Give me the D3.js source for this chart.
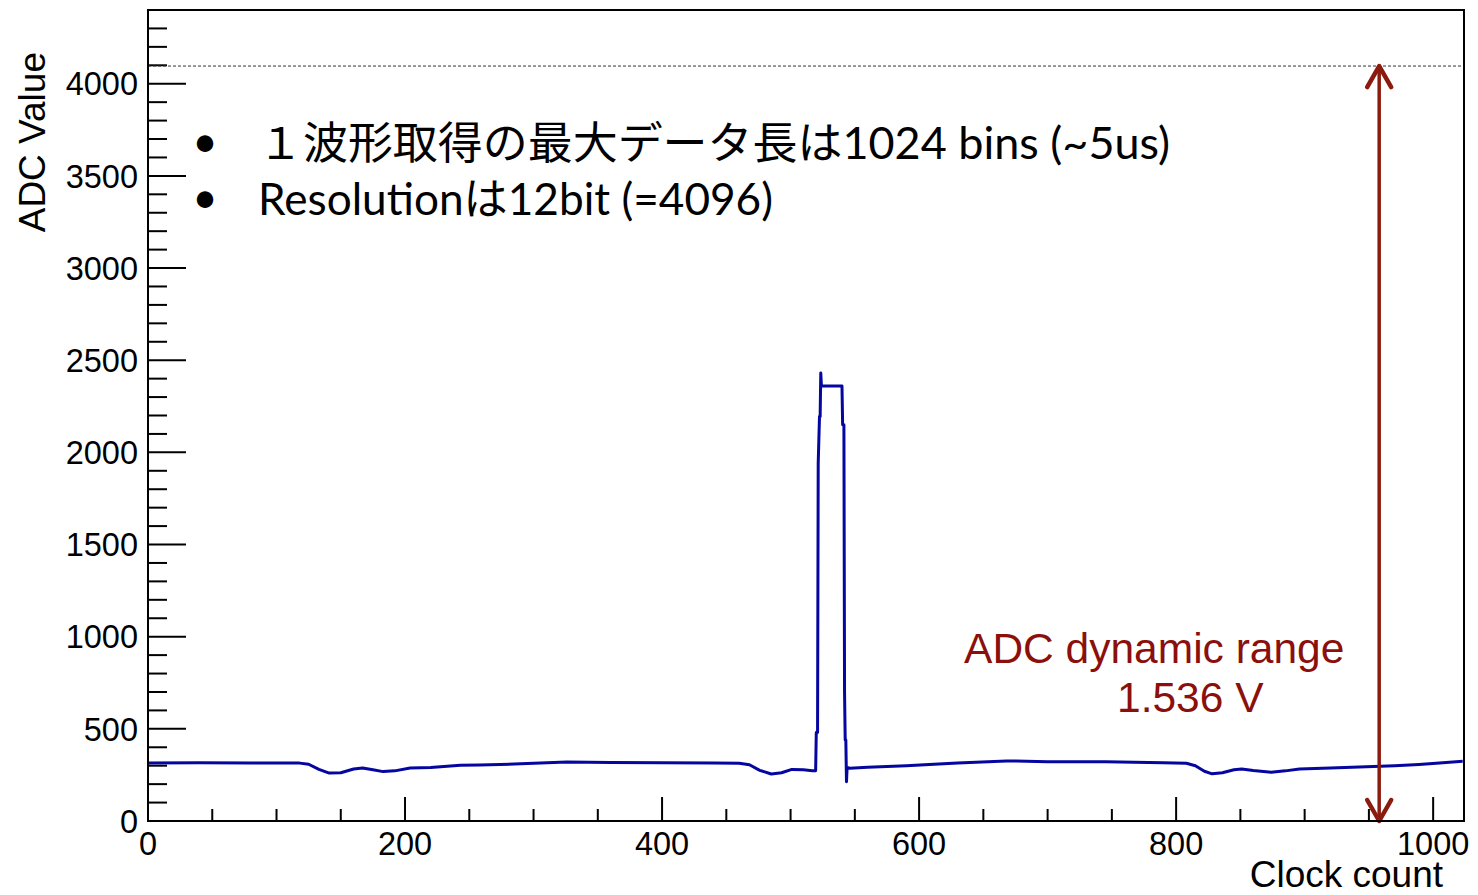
<!DOCTYPE html>
<html>
<head>
<meta charset="utf-8">
<script src="https://cdn.jsdelivr.net/npm/d3@7"></script>
<style>
  body { margin: 0; background: #fff; }
  .tick-label { font-family: "Liberation Sans", Arial, sans-serif; font-size: 32.5px; fill: #000; }
  .axis-title { font-family: "Liberation Sans", Arial, sans-serif; font-size: 37px; fill: #000; }
  .note { font-family: Lato, "Noto Sans CJK JP", sans-serif; font-size: 44px; fill: #000; }
  .range { font-family: "Liberation Sans", Arial, sans-serif; font-size: 42.5px; fill: #8b0f0b; }
</style>
</head>
<body>
<div id="chart"></div>
<script>
// waveform: clock count vs ADC value
var clock = [0, 40, 80, 118, 125, 133, 141, 150, 160, 167, 175, 183, 192, 204, 220, 243, 258, 290, 326, 360,
             400, 440, 460, 468, 476, 485, 493, 501, 510, 517, 519.5, 520, 521, 521.5, 522.5, 523, 523.5, 524, 540, 540.5,
             541.5, 542, 542.5, 543, 543.5, 544, 546, 560, 590, 630, 668, 700, 745, 790, 808, 815, 822, 828, 836, 845,
             851, 860, 874, 885, 896, 920, 948, 970, 989, 1005, 1023];
var adc = [315, 316, 314, 314, 308, 280, 260, 262, 282, 288, 278, 268, 272, 288, 290, 302, 304, 310, 320, 317,
           316, 315, 313, 305, 275, 255, 262, 280, 278, 273, 273, 480, 480, 1940, 2194, 2194, 2430, 2360, 2360, 2150,
           2150, 694, 440, 440, 213, 290, 286, 292, 300, 315, 326, 322, 322, 316, 313, 300, 270, 256, 262, 278,
           282, 274, 264, 272, 282, 288, 295, 300, 307, 315, 324];

var xMajor = [0, 200, 400, 600, 800, 1000];
var yMajor = [0, 500, 1000, 1500, 2000, 2500, 3000, 3500, 4000];
var xDomain = [0, 1024];
var yDomain = [0, 4400];
var fullScale = 4096;       // 12 bit
var arrowClock = 958;

var notes = ["１波形取得の最大データ長は1024 bins (~5us)", "Resolutionは12bit (=4096)"];
var rangeText = ["ADC dynamic range", "1.536 V"];

var W = 1478, H = 895;
var margin = {top: 10, right: 14, bottom: 74, left: 148};
var w = W - margin.left - margin.right;
var h = H - margin.top - margin.bottom;

var svg = d3.select("#chart").append("svg")
    .attr("width", W)
    .attr("height", H);

var g = svg.append("g")
    .attr("transform", "translate(" + margin.left + "," + margin.top + ")");

var x = d3.scaleLinear().domain(xDomain).range([0, w]);
var y = d3.scaleLinear().domain(yDomain).range([h, 0]);

// ticks, ROOT style: pointing into the frame
var xMinor = d3.range(0, 1024, 50).filter(function (d) { return d % 200 !== 0; });
var yMinor = d3.range(0, 4401, 100).filter(function (d) { return d % 500 !== 0 || d > 4000; });

g.selectAll(".xmaj").data(xMajor).enter().append("line")
    .attr("x1", function (d) { return x(d); }).attr("x2", function (d) { return x(d); })
    .attr("y1", h).attr("y2", h - 24)
    .attr("stroke", "#000").attr("stroke-width", 2);
g.selectAll(".xmin").data(xMinor).enter().append("line")
    .attr("x1", function (d) { return x(d); }).attr("x2", function (d) { return x(d); })
    .attr("y1", h).attr("y2", h - 12)
    .attr("stroke", "#000").attr("stroke-width", 2);
g.selectAll(".ymaj").data(yMajor).enter().append("line")
    .attr("x1", 0).attr("x2", 38)
    .attr("y1", function (d) { return y(d); }).attr("y2", function (d) { return y(d); })
    .attr("stroke", "#000").attr("stroke-width", 2);
g.selectAll(".ymin").data(yMinor).enter().append("line")
    .attr("x1", 0).attr("x2", 19)
    .attr("y1", function (d) { return y(d); }).attr("y2", function (d) { return y(d); })
    .attr("stroke", "#000").attr("stroke-width", 2);

g.selectAll(".xlab").data(xMajor).enter().append("text")
    .attr("class", "tick-label")
    .attr("x", function (d) { return x(d); })
    .attr("y", h + 34)
    .attr("text-anchor", "middle")
    .text(function (d) { return d; });
g.selectAll(".ylab").data(yMajor).enter().append("text")
    .attr("class", "tick-label")
    .attr("x", -10)
    .attr("y", function (d) { return y(d); })
    .attr("dy", "0.36em")
    .attr("text-anchor", "end")
    .text(function (d) { return d; });

svg.append("text")
    .attr("class", "axis-title")
    .attr("x", 1443).attr("y", 887)
    .attr("text-anchor", "end")
    .text("Clock count");
svg.append("text")
    .attr("class", "axis-title")
    .attr("transform", "translate(45,52) rotate(-90)")
    .attr("text-anchor", "end")
    .text("ADC Value");

// 12 bit full scale
g.append("line")
    .attr("x1", 0).attr("x2", w)
    .attr("y1", y(fullScale)).attr("y2", y(fullScale))
    .attr("stroke", "#333").attr("stroke-width", 1)
    .attr("stroke-dasharray", "3,2");

// waveform
var pts = clock.map(function (c, i) { return [c, adc[i]]; });
var line = d3.line()
    .x(function (d) { return x(d[0]); })
    .y(function (d) { return y(d[1]); });
g.append("path")
    .datum(pts)
    .attr("d", line)
    .attr("fill", "none")
    .attr("stroke", "#0505a0")
    .attr("stroke-width", 3)
    .attr("stroke-linejoin", "round");

// dynamic range arrow
var red = "#8b1a0f";
var ax = x(arrowClock), aTop = y(fullScale), aBot = y(0);
g.append("line")
    .attr("x1", ax).attr("x2", ax)
    .attr("y1", aTop + 2).attr("y2", aBot - 2)
    .attr("stroke", red).attr("stroke-width", 3.5);
g.append("path")
    .attr("d", "M" + (ax - 12) + "," + (aTop + 21) + "L" + ax + "," + aTop + "L" + (ax + 12) + "," + (aTop + 21))
    .attr("fill", "none").attr("stroke", red).attr("stroke-width", 4.5)
    .attr("stroke-linecap", "round").attr("stroke-linejoin", "round");
g.append("path")
    .attr("d", "M" + (ax - 12) + "," + (aBot - 21) + "L" + ax + "," + aBot + "L" + (ax + 12) + "," + (aBot - 21))
    .attr("fill", "none").attr("stroke", red).attr("stroke-width", 4.5)
    .attr("stroke-linecap", "round").attr("stroke-linejoin", "round");

g.append("text").attr("class", "range")
    .attr("x", x(635)).attr("y", y(857))
    .text(rangeText[0]);
g.append("text").attr("class", "range")
    .attr("x", x(754)).attr("y", y(592))
    .text(rangeText[1]);

// slide notes
var noteWidths = [912, 515];
notes.forEach(function (t, i) {
    var by = 159 + i * 56;
    svg.append("text").attr("class", "note")
        .attr("x", 205).attr("y", by - 2)
        .attr("text-anchor", "middle")
        .text("•");
    svg.append("text").attr("class", "note")
        .attr("x", 258).attr("y", by)
        .attr("textLength", noteWidths[i])
        .attr("lengthAdjust", "spacingAndGlyphs")
        .text(t);
});

// frame
g.append("rect")
    .attr("x", 0).attr("y", 0)
    .attr("width", w).attr("height", h)
    .attr("fill", "none")
    .attr("stroke", "#000").attr("stroke-width", 2);
</script>
</body>
</html>
